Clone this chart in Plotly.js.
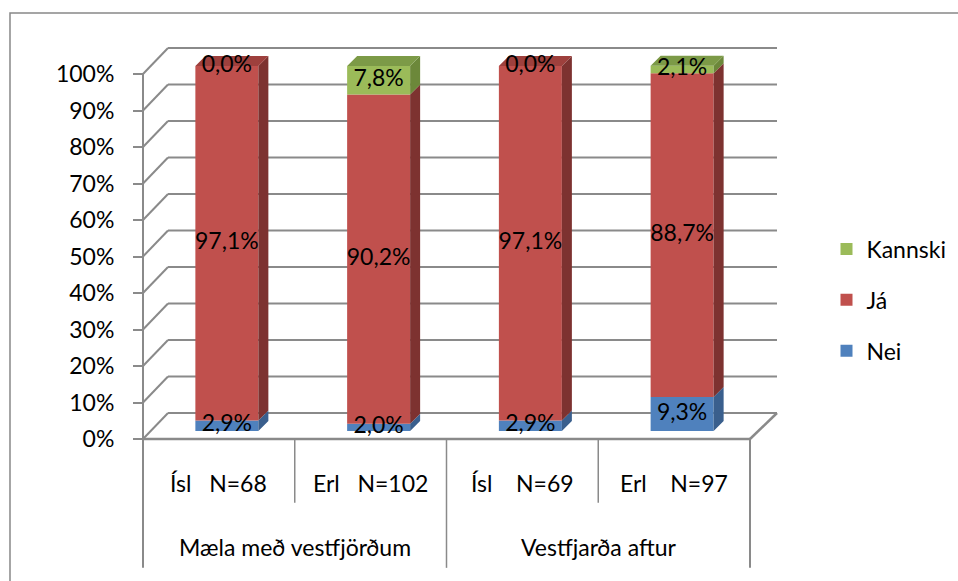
<!DOCTYPE html>
<html>
<head>
<meta charset="utf-8">
<script src="https://cdn.plot.ly/plotly-3.0.1.min.js"></script>
<style>html,body{margin:0;padding:0;background:#fff;}#chart{width:958px;height:581px;}</style>
</head>
<body>
<div id="chart"></div>
<script>
// ---- data ----
const subLabels = ["Ísl\u00a0\u00a0\u00a0N=68", "Erl\u00a0\u00a0\u00a0N=102", "Ísl\u00a0\u00a0\u00a0\u00a0N=69", "Erl\u00a0\u00a0\u00a0\u00a0N=97"];
const groupLabels = ["Mæla með vestfjörðum", "Vestfjarða aftur"];
const nei = [2.9, 2.0, 2.9, 9.3];
const ja = [97.1, 90.2, 97.1, 88.7];
const kannski = [0.0, 7.8, 0.0, 2.1];
const tickValues = [0, 10, 20, 30, 40, 50, 60, 70, 80, 90, 100];
const tickLabels = ["0%", "10%", "20%", "30%", "40%", "50%", "60%", "70%", "80%", "90%", "100%"];

// ---- styling / geometry ----
const FONT = "Lato, 'Open Sans', sans-serif";
const FS = 23;
const PX = 151.75;   // pixels per category
const PY = 3.65;     // pixels per percent
const FDX = 8 / PX, FDY = 8 / PY;      // bar front offset into depth
const BW = 63 / PX;                    // bar front width
const SDX = 10 / PX, SDY = 10 / PY;    // bar depth
const WDX = 25 / PX, WDY = 26 / PY;    // wall depth
const WDXR = 27 / PX;
const LB = -35.3, SB = -17.5;          // label area bottoms
const GRID = "#8a8a8a";

const series = [
  {name: "Nei", vals: nei, front: "#4F81BD", side: "#3A5F8D", top: "#4670A5", rank: 3},
  {name: "Já", vals: ja, front: "#C0504D", side: "#7D3230", top: "#9E403D", rank: 2},
  {name: "Kannski", vals: kannski, front: "#9BBB59", side: "#6C883A", top: "#7C9A47", rank: 1}
];

const n = nei.length;
const xc = [...Array(n).keys()].map(i => i + FDX);
const fmt = v => v.toFixed(1).replace('.', ',') + '%';

const traces = [];
const cum = new Array(n).fill(0);
const bases = [], tops = [];
series.forEach((s, si) => {
  const b = cum.map(c => c + FDY);
  const t = b.map((v, i) => v + s.vals[i]);
  bases.push(b); tops.push(t);
  s.vals.forEach((v, i) => cum[i] += v);
});

// side faces
series.forEach((s, si) => {
  const xs = [], ys = [];
  for (let i = 0; i < n; i++) {
    const xr = xc[i] + BW / 2, b = bases[si][i], t = tops[si][i];
    xs.push(xr, xr + SDX, xr + SDX, xr, xr, null);
    ys.push(b, b + SDY, t + SDY, t, b, null);
  }
  traces.push({type: "scatter", mode: "none", x: xs, y: ys, fill: "toself", fillcolor: s.side,
    hoverinfo: "skip", showlegend: false, legendgroup: s.name, legendrank: s.rank});
});
// top faces (topmost non-zero segment)
series.forEach((s, si) => {
  const xs = [], ys = [];
  for (let i = 0; i < n; i++) {
    let topIdx = 0;
    series.forEach((ss, k) => { if (ss.vals[i] > 0) topIdx = k; });
    if (topIdx !== si) continue;
    const xl = xc[i] - BW / 2, xr = xc[i] + BW / 2, T = tops[series.length - 1][i];
    xs.push(xl, xl + SDX, xr + SDX, xr, xl, null);
    ys.push(T, T + SDY, T + SDY, T, T, null);
  }
  traces.push({type: "scatter", mode: "none", x: xs, y: ys, fill: "toself", fillcolor: s.top,
    hoverinfo: "skip", showlegend: false, legendgroup: s.name, legendrank: s.rank});
});
// front faces
series.forEach((s, si) => {
  traces.push({type: "bar", name: s.name, x: xc, y: s.vals, base: bases[si], width: BW,
    marker: {color: s.front, line: {width: 0}}, legendgroup: s.name, legendrank: s.rank,
    hoverinfo: "skip"});
});
// data labels
series.forEach((s, si) => {
  traces.push({type: "scatter", mode: "text", x: xc, y: s.vals.map((v, i) => bases[si][i] + v / 2),
    text: s.vals.map(fmt), textposition: "middle center", cliponaxis: false,
    textfont: {family: FONT, size: FS, color: "#000"}, showlegend: false, hoverinfo: "skip",
    legendgroup: s.name, legendrank: s.rank});
});

// ---- frame shapes ----
const shapes = [];
const line = (x0, y0, x1, y1, w) => shapes.push({type: "line", xref: "x", yref: "y", x0, y0, x1, y1,
  line: {color: GRID, width: w || 2}, layer: "below"});
tickValues.forEach(v => {
  line(-0.5, v, -0.5 + WDX, v + WDY);
  line(-0.5 + WDX, v + WDY, 3.5 + WDXR, v + WDY);
});
line(-0.5, 0, 3.5, 0, 2.5);
line(3.5, 0, 3.5 + WDXR, WDY, 2.5);
line(-0.5, 100, -0.5, LB);
line(3.5, 0, 3.5, LB);
line(0.5, 0, 0.5, SB, 1.5);
line(2.5, 0, 2.5, SB, 1.5);
line(1.5, 0, 1.5, LB, 1.5);
// outer chart border
shapes.push({type: "rect", xref: "x", yref: "y", x0: -1.3765, y0: 116.7, x1: 6, y1: -45,
  line: {color: "#888", width: 1.5}, layer: "below"});

// ---- category labels ----
const annotations = [];
subLabels.forEach((t, i) => annotations.push({x: i, y: -12.05, xref: "x", yref: "y", text: t,
  showarrow: false, font: {family: FONT, size: FS, color: "#000"}}));
groupLabels.forEach((t, g) => annotations.push({x: 2 * g + 0.5, y: -29.6, xref: "x", yref: "y", text: t,
  showarrow: false, font: {family: FONT, size: FS, color: "#000"}}));

const layout = {
  width: 958, height: 581,
  margin: {l: 0, r: 0, t: 0, b: 0},
  paper_bgcolor: "#fff", plot_bgcolor: "rgba(0,0,0,0)",
  barmode: "overlay",
  showlegend: true,
  xaxis: {range: [-0.5 - 143 / PX, -0.5 + 815 / PX], visible: false, fixedrange: true},
  yaxis: {range: [(439 - 581) / PY, 439 / PY], anchor: "free", position: 143 / 958,
    tickvals: tickValues, ticktext: tickLabels, ticks: "outside", ticklen: 10, tickwidth: 2,
    tickcolor: GRID, showgrid: false, zeroline: false, showline: false, ticklabelstandoff: 14,
    tickfont: {family: FONT, size: FS, color: "#000"}, fixedrange: true},
  legend: {x: 826.5 / 958, xanchor: "left", y: 1 - 300 / 581, yanchor: "middle",
    traceorder: "grouped", tracegroupgap: 18, bgcolor: "rgba(0,0,0,0)",
    font: {family: FONT, size: FS, color: "#000"}},
  shapes, annotations
};

Plotly.newPlot("chart", traces, layout, {displayModeBar: false, staticPlot: true});
</script>
</body>
</html>
